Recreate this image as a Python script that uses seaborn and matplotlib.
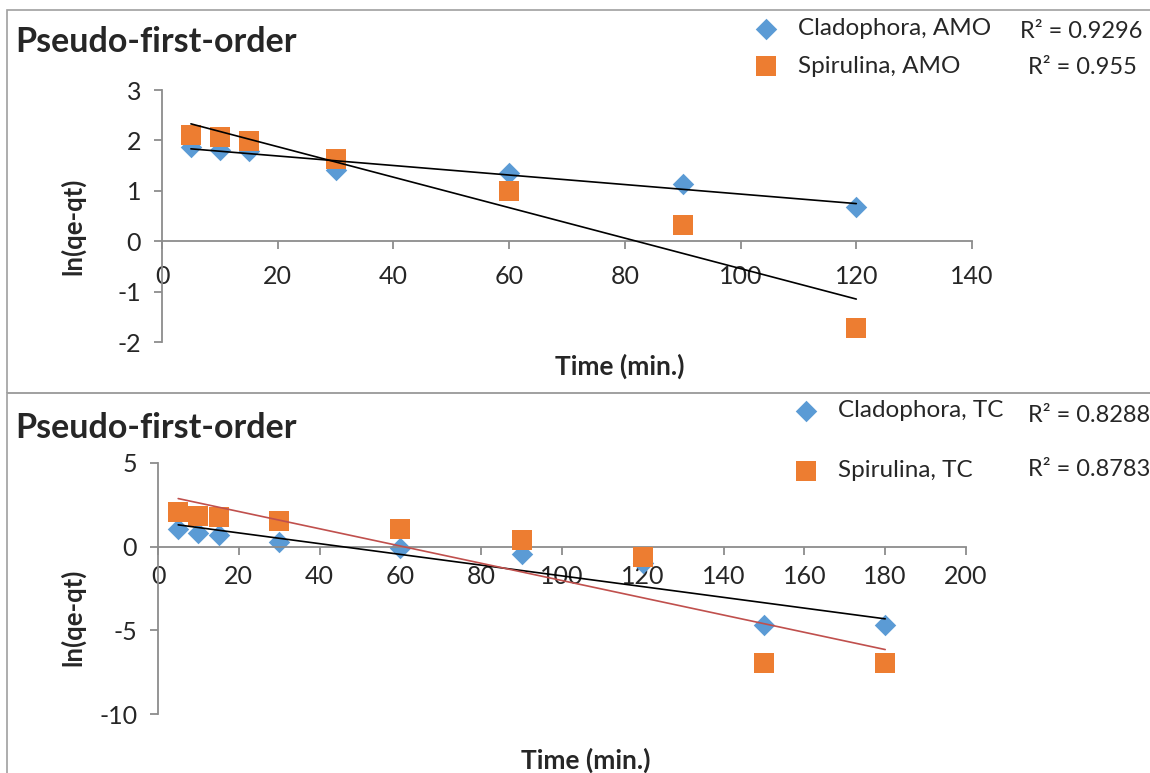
import numpy as np
import pandas as pd
import matplotlib
matplotlib.use("Agg")
import matplotlib.pyplot as plt
import seaborn as sns
from matplotlib.patches import Rectangle

# Pseudo-first-order kinetics: ln(qe-qt) versus contact time
time_amo = [5, 10, 15, 30, 60, 90, 120]
cladophora_amo = [1.86, 1.81, 1.78, 1.42, 1.35, 1.14, 0.68]
spirulina_amo = [2.11, 2.06, 1.99, 1.63, 0.99, 0.33, -1.73]

time_tc = [5, 10, 15, 30, 60, 90, 120, 150, 180]
cladophora_tc = [1.04, 0.80, 0.70, 0.30, -0.06, -0.46, -0.95, -4.69, -4.69]
spirulina_tc = [2.06, 1.86, 1.78, 1.56, 1.08, 0.40, -0.64, -6.97, -6.97]

labels_amo = ["Cladophora, AMO", "Spirulina, AMO"]
labels_tc = ["Cladophora, TC", "Spirulina, TC"]
r2_amo = ["R² = 0.9296", "R² = 0.955"]
r2_tc = ["R² = 0.8288", "R² = 0.8783"]

xticks_amo = [0, 20, 40, 60, 80, 100, 120, 140]
yticks_amo = [-2, -1, 0, 1, 2, 3]
xticks_tc = [0, 20, 40, 60, 80, 100, 120, 140, 160, 180, 200]
yticks_tc = [-10, -5, 0, 5]

title = "Pseudo-first-order"
xlabel = "Time (min.)"
ylabel = "ln(qe-qt)"

BLUE = "#5B9BD5"
ORANGE = "#ED7D31"
AXIS_GREY = "#8C8C8C"
W, H = 1150, 773

sns.set_theme(style="white")
plt.rcParams["font.family"] = ["Lato", "DejaVu Sans"]
plt.rcParams["axes.unicode_minus"] = False

fig = plt.figure(figsize=(W / 100, H / 100), dpi=100)
fig.patch.set_facecolor("white")


def fx(px):
    return px / W


def fy(py):
    return 1 - py / H


# chart frames
for top, bottom in [(10, 393), (393, 800)]:
    fig.add_artist(Rectangle((fx(7), fy(bottom)), 1.2, fy(top) - fy(bottom),
                             transform=fig.transFigure, fill=False,
                             edgecolor="#A0A0A0", linewidth=1.2, zorder=0))


def panel(rect, t, c, s, labels, line_colors, xticks, yticks, xpad):
    ax = fig.add_axes(rect)
    ax.set_facecolor("none")
    df = pd.DataFrame({"Time": t, "c": c, "s": s})
    sns.scatterplot(data=df, x="Time", y="c", marker="D", s=120, color=BLUE,
                    linewidth=0, label=labels[0], ax=ax, zorder=2, legend=False)
    sns.scatterplot(data=df, x="Time", y="s", marker="s", s=190, color=ORANGE,
                    linewidth=0, label=labels[1], ax=ax, zorder=3, legend=False)
    sns.regplot(data=df, x="Time", y="c", scatter=False, ci=None, truncate=True,
                color=line_colors[0], line_kws={"lw": 1.2, "zorder": 4}, ax=ax)
    sns.regplot(data=df, x="Time", y="s", scatter=False, ci=None, truncate=True,
                color=line_colors[1], line_kws={"lw": 1.2, "zorder": 4}, ax=ax)
    ax.set_xlim(xticks[0], xticks[-1])
    ax.set_ylim(yticks[0], yticks[-1])
    ax.set_xticks(xticks)
    ax.set_yticks(yticks)
    ax.set_xlabel("")
    ax.set_ylabel("")
    for side in ["top", "right"]:
        ax.spines[side].set_visible(False)
    for side in ["left", "bottom"]:
        ax.spines[side].set_color(AXIS_GREY)
        ax.spines[side].set_linewidth(1.3)
    ax.spines["bottom"].set_position(("data", 0))
    ax.tick_params(axis="x", direction="out", length=6, width=1.3,
                   color=AXIS_GREY, labelsize=18, pad=xpad, bottom=True)
    ax.tick_params(axis="y", direction="out", length=6, width=1.3,
                   color=AXIS_GREY, labelsize=18, pad=9, left=True)
    ax.grid(False)
    return ax


ax1 = panel([fx(162), fy(342), fx(972) - fx(162), fy(90) - fy(342)],
            time_amo, cladophora_amo, spirulina_amo, labels_amo,
            ["black", "black"], xticks_amo, yticks_amo, 11)
ax2 = panel([fx(158), fy(714), fx(966) - fx(158), fy(463) - fy(714)],
            time_tc, cladophora_tc, spirulina_tc, labels_tc,
            ["black", "#C0504D"], xticks_tc, yticks_tc, 7)

# titles and axis labels
fig.text(fx(15), fy(42), title, fontsize=24.5, fontweight="bold", va="center", ha="left")
fig.text(fx(15), fy(428), title, fontsize=24.5, fontweight="bold", va="center", ha="left")
fig.text(fx(620), fy(366), xlabel, fontsize=19, fontweight="bold", va="center", ha="center")
fig.text(fx(586), fy(760), xlabel, fontsize=19, fontweight="bold", va="center", ha="center")
fig.text(fx(73), fy(226), ylabel, fontsize=18.5, fontweight="bold", va="center",
         ha="center", rotation=90)
fig.text(fx(73), fy(617), ylabel, fontsize=18.5, fontweight="bold", va="center",
         ha="center", rotation=90)

# legends
for ax, x0, y0, spacing in [(ax1, 754, 18, 0.68), (ax2, 794, 400, 1.62)]:
    handles, labs = ax.get_legend_handles_labels()
    ax.legend(handles, labs, loc="upper left", bbox_to_anchor=(fx(x0), fy(y0)),
              bbox_transform=fig.transFigure, frameon=False, fontsize=17.5,
              handlelength=1.0, handletextpad=0.8, labelspacing=spacing,
              borderpad=0, borderaxespad=0, scatterpoints=1)

# coefficient of determination for each trend line
fig.text(fx(1020), fy(31), r2_amo[0], fontsize=17, va="center", ha="left")
fig.text(fx(1028), fy(68), r2_amo[1], fontsize=17, va="center", ha="left")
fig.text(fx(1028), fy(415), r2_tc[0], fontsize=17, va="center", ha="left")
fig.text(fx(1028), fy(470), r2_tc[1], fontsize=17, va="center", ha="left")

fig.savefig("out.png", dpi=100, facecolor="white")
